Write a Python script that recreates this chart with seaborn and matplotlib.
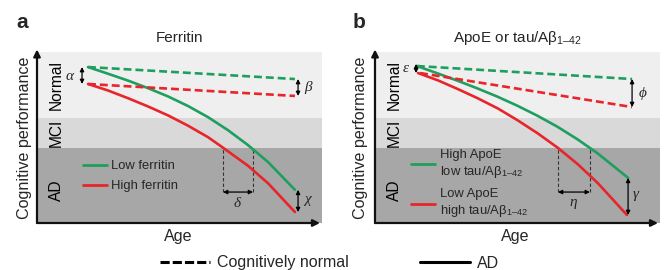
import matplotlib
matplotlib.use("Agg")
import matplotlib.pyplot as plt
import numpy as np
import pandas as pd
import seaborn as sns
from matplotlib.lines import Line2D

sns.set_style("white")
plt.rcParams["font.family"] = ["Liberation Sans", "DejaVu Sans"]
plt.rcParams["mathtext.fontset"] = "custom"
plt.rcParams["mathtext.rm"] = "Liberation Sans"
plt.rcParams["mathtext.it"] = "Liberation Serif:italic"
plt.rcParams["mathtext.bf"] = "Liberation Sans:bold"

# ---------------- data (age 0-100, cognitive performance 0-100) ----------------
# Panel a: Ferritin
age_low_a = [17.9, 24.9, 31.9, 38.9, 46.0, 53.0, 60.0, 67.0, 74.0, 81.1, 90.5]
perf_low_a = [91.2, 87.3, 83.3, 78.9, 74.0, 68.4, 61.9, 54.3, 45.6, 35.6, 19.4]
age_high_a = [17.9, 24.9, 31.9, 38.9, 46.0, 53.0, 60.0, 65.3, 74.0, 81.1, 90.5]
perf_high_a = [81.3, 77.5, 73.0, 68.2, 62.9, 56.9, 50.2, 44.0, 33.5, 23.2, 6.4]
age_norm_low_a = [17.9, 90.5]
perf_norm_low_a = [91.2, 84.2]
age_norm_high_a = [17.9, 90.5]
perf_norm_high_a = [81.3, 74.3]
cross_a = [65.3, 75.8]          # ages where curves enter AD

# Panel b: ApoE or tau/Abeta
age_low_b = [14.7, 21.8, 28.8, 35.8, 42.8, 49.8, 56.8, 63.9, 70.9, 77.9, 88.8]
perf_low_b = [91.8, 87.6, 83.3, 78.8, 74.0, 68.7, 62.9, 56.4, 49.1, 41.0, 26.4]
age_high_b = [15.1, 22.1, 29.1, 36.1, 43.2, 50.2, 57.2, 64.2, 71.2, 78.2, 88.4]
perf_high_b = [87.7, 83.4, 78.3, 72.9, 66.9, 59.9, 52.3, 43.9, 34.3, 23.3, 4.7]
age_norm_low_b = [14.7, 90.2]
perf_norm_low_b = [91.8, 84.2]
age_norm_high_b = [15.8, 90.2]
perf_norm_high_b = [87.7, 67.8]
cross_b = [64.2, 75.4]

# diagnostic bands
band_names = ["AD", "MCI", "Normal"]
band_edges = [0, 43.9, 61.4, 100]
band_label_y = [19.0, 52.6, 80.7]
band_colors = ["#a7a7a7", "#d9d9d9", "#efefef"]

GREEN = "#1f9f5f"
RED = "#e8252b"

titles = ["Ferritin", "ApoE or tau/A\u03b2$_{1\u201342}$"]
legend_labels_a = ["Low ferritin", "High ferritin"]
legend_labels_b = ["High ApoE\nlow tau/A\u03b2$_{1\u201342}$",
                   "Low ApoE\nhigh tau/A\u03b2$_{1\u201342}$"]


def make_df(al, pl, ah, ph, anl, pnl, anh, pnh):
    rows = []
    for a, p in zip(al, pl):
        rows.append(("low", "AD", a, p))
    for a, p in zip(ah, ph):
        rows.append(("high", "AD", a, p))
    for a, p in zip(anl, pnl):
        rows.append(("low", "Normal", a, p))
    for a, p in zip(anh, pnh):
        rows.append(("high", "Normal", a, p))
    return pd.DataFrame(rows, columns=["group", "kind", "age", "perf"])


df_a = make_df(age_low_a, perf_low_a, age_high_a, perf_high_a,
               age_norm_low_a, perf_norm_low_a, age_norm_high_a, perf_norm_high_a)
df_b = make_df(age_low_b, perf_low_b, age_high_b, perf_high_b,
               age_norm_low_b, perf_norm_low_b, age_norm_high_b, perf_norm_high_b)

W, H = 664, 270
fig = plt.figure(figsize=(W / 100, H / 100), dpi=100)
fig.patch.set_facecolor("white")


def px_axes(left, top, right, bottom):
    return fig.add_axes([left / W, 1 - bottom / H, (right - left) / W, (bottom - top) / H])


ax_a = px_axes(37, 52, 322, 223)
ax_b = px_axes(375, 52, 660, 223)


def darrow(ax, x0, y0, x1, y1):
    ax.annotate("", xy=(x1, y1), xytext=(x0, y0),
                arrowprops=dict(arrowstyle="<|-|>", color="black", lw=0.9,
                                mutation_scale=6, shrinkA=0, shrinkB=0), zorder=6)


for ax, df, title in [(ax_a, df_a, titles[0]), (ax_b, df_b, titles[1])]:
    ax.set_xlim(0, 100)
    ax.set_ylim(0, 100)
    ax.axis("off")
    for i, name in enumerate(band_names):
        ax.axhspan(band_edges[i], band_edges[i + 1], color=band_colors[i], lw=0, zorder=0)
        ax.text(6.7, band_label_y[i], name, rotation=90, ha="center", va="center",
                fontsize=11.2, color="black", zorder=3)
    sns.lineplot(data=df, x="age", y="perf", hue="group", style="kind",
                 estimator=None, sort=False,
                 palette={"low": GREEN, "high": RED},
                 dashes={"AD": "", "Normal": (3, 1.5)},
                 lw=1.9, legend=False, ax=ax, zorder=4)
    for line in ax.get_lines():
        line.set_solid_joinstyle("round")
    # axes arrows
    ax.annotate("", xy=(0, 1.015), xytext=(0, 0), xycoords="axes fraction",
                arrowprops=dict(arrowstyle="-|>", color="#111111", lw=1.6,
                                mutation_scale=10, shrinkA=0, shrinkB=0))
    ax.annotate("", xy=(0.993, 0), xytext=(0, 0), xycoords="axes fraction",
                arrowprops=dict(arrowstyle="-|>", color="#111111", lw=1.6,
                                mutation_scale=10, shrinkA=0, shrinkB=0))
    ax.set_title(title, fontsize=11, pad=7)

# ---- panel a annotations ----
darrow(ax_a, 15.8, perf_norm_low_a[0], 15.8, perf_norm_high_a[0])
ax_a.text(11.8, (perf_norm_low_a[0] + perf_norm_high_a[0]) / 2, r"$\alpha$",
          ha="center", va="center", fontsize=11)
darrow(ax_a, 91.6, perf_norm_low_a[1], 91.6, perf_norm_high_a[1])
ax_a.text(93.8, (perf_norm_low_a[1] + perf_norm_high_a[1]) / 2, r"$\beta$",
          ha="left", va="center", fontsize=11)
ax_a.vlines(cross_a, 18.1, band_edges[1], colors="#333333", lw=0.8,
            linestyles=(0, (3, 2)), zorder=3)
darrow(ax_a, cross_a[0], 18.1, cross_a[1], 18.1)
ax_a.text(np.mean(cross_a), 11.5, r"$\delta$", ha="center", va="center", fontsize=11)
darrow(ax_a, 91.6, perf_low_a[-1], 91.6, perf_high_a[-1])
ax_a.text(93.5, (perf_low_a[-1] + perf_high_a[-1]) / 2, r"$\chi$",
          ha="left", va="center", fontsize=11)

# ---- panel b annotations ----
darrow(ax_b, 14.4, perf_norm_low_b[0] + 1.2, 14.4, perf_norm_high_b[0])
ax_b.text(11.0, (perf_norm_low_b[0] + perf_norm_high_b[0]) / 2 + 0.8, r"$\varepsilon$",
          ha="center", va="center", fontsize=11)
darrow(ax_b, 90.2, perf_norm_low_b[1], 90.2, perf_norm_high_b[1])
ax_b.text(92.2, (perf_norm_low_b[1] + perf_norm_high_b[1]) / 2, r"$\phi$",
          ha="left", va="center", fontsize=11)
ax_b.vlines(cross_b, 18.1, band_edges[1], colors="#333333", lw=0.8,
            linestyles=(0, (3, 2)), zorder=3)
darrow(ax_b, cross_b[0], 18.1, cross_b[1], 18.1)
ax_b.text(np.mean(cross_b), 11.0, r"$\eta$", ha="center", va="center", fontsize=11)
darrow(ax_b, 88.8, perf_low_b[-1], 88.8, perf_high_b[-1])
ax_b.text(90.3, (perf_low_b[-1] + perf_high_b[-1]) / 2, r"$\gamma$",
          ha="left", va="center", fontsize=11)

# ---- in-panel legends ----
h_green = Line2D([], [], color=GREEN, lw=2)
h_red = Line2D([], [], color=RED, lw=2)
leg_a = ax_a.legend([h_green, h_red], legend_labels_a, loc="upper left",
                    bbox_to_anchor=(16.1, 36.8), bbox_transform=ax_a.transData,
                    frameon=False, fontsize=9.4, handlelength=1.85, handletextpad=0.3,
                    labelspacing=0.62, borderpad=0, borderaxespad=0)
leg_b = ax_b.legend([h_green, h_red], legend_labels_b, loc="upper left",
                    bbox_to_anchor=(12.6, 43.5), bbox_transform=ax_b.transData,
                    frameon=False, fontsize=9.4, handlelength=1.85, handletextpad=0.35,
                    labelspacing=0.55, borderpad=0, borderaxespad=0)
for t in leg_b.get_texts():
    t.set_linespacing(1.35)

# ---- figure-level text ----
for x, letter in [(22, "a"), (359, "b")]:
    fig.text(x / W, 1 - 22 / H, letter, fontsize=15, fontweight="bold",
             ha="center", va="center")
for x in (25, 361):
    fig.text(x / W, 1 - 137.5 / H, "Cognitive performance", rotation=90,
             fontsize=11.6, ha="center", va="center")
for x in (178, 515):
    fig.text(x / W, 1 - 236 / H, "Age", fontsize=11.6, ha="center", va="center")

h_norm = Line2D([], [], color="black", lw=2.2, linestyle=(0, (3, 1)))
h_ad = Line2D([], [], color="black", lw=2.2)
fig.legend([h_norm, h_ad], ["Cognitively normal", "AD"], ncol=2, loc="center left",
           bbox_to_anchor=(160 / W, 1 - 263 / H), frameon=False, fontsize=11.5,
           handlelength=3.1, handletextpad=0.45, columnspacing=4.5,
           borderpad=0, borderaxespad=0)

fig.savefig("out.png", dpi=100)
